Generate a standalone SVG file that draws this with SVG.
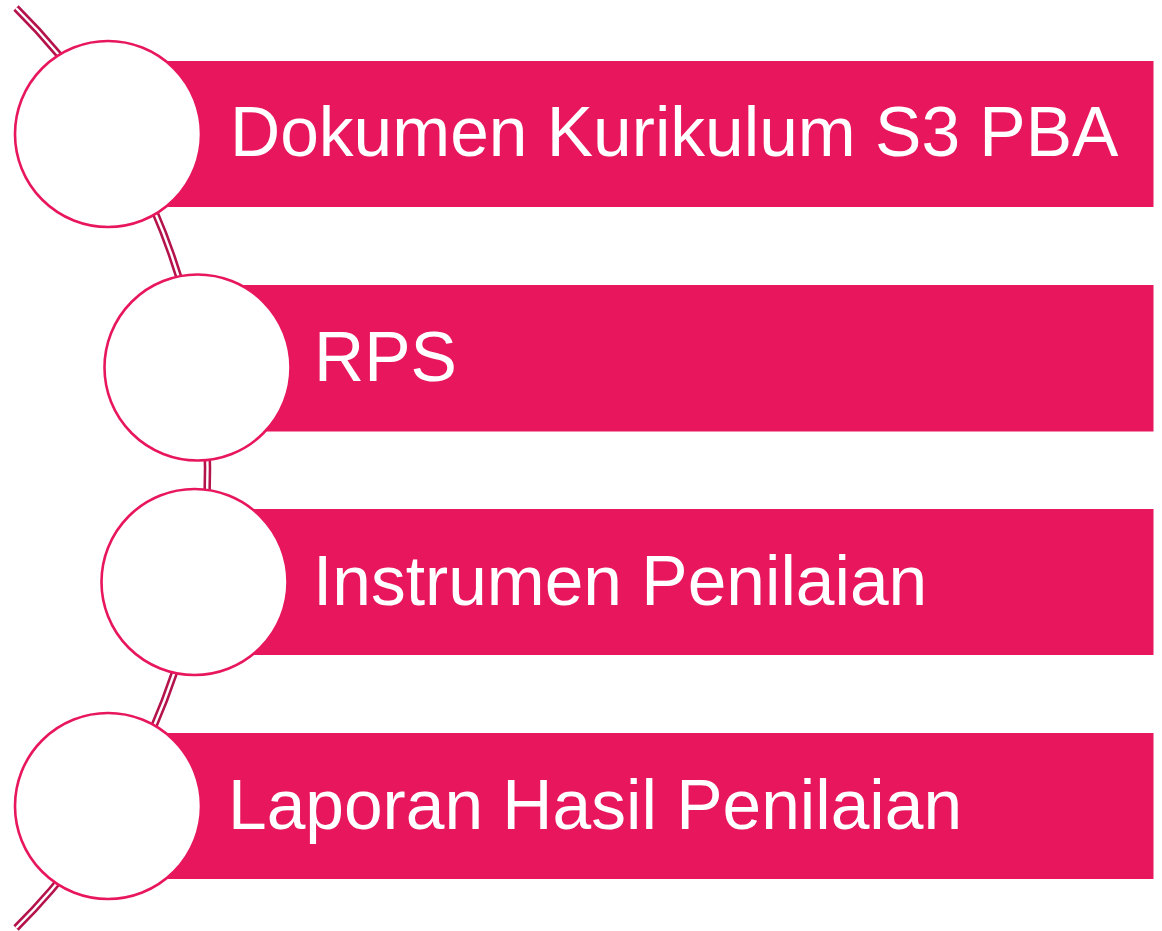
<svg xmlns="http://www.w3.org/2000/svg" width="1162" height="931" viewBox="0 0 1162 931">
  <style>
    .bar { fill: #e8175d; }
    .disc { fill: #ffffff; stroke: #e8175d; stroke-width: 2.6; }
    .label { fill: #ffffff; font-family: "Liberation Sans", Arial, sans-serif; font-size: 69.5px; }
    .spine-outer { fill: none; stroke: #b5134b; stroke-width: 7.5; }
    .spine-inner { fill: none; stroke: #ffffff; stroke-width: 2.4; }
  </style>
  <rect width="1162" height="931" fill="#ffffff"/>

  <!-- curved double-line spine running behind the circles -->
  <g id="connectors">
    <path class="spine-outer" d="M16 8 A648.2 648.2 0 0 1 16 928"/>
    <path class="spine-inner" d="M16 8 A648.2 648.2 0 0 1 16 928"/>
  </g>

  <g id="step1">
    <rect class="bar" x="108" y="61" width="1045.5" height="146"/>
    <circle class="disc" cx="108" cy="134" r="93"/>
    <text class="label" x="230" y="156">Dokumen Kurikulum S3 PBA</text>
  </g>

  <g id="step2">
    <rect class="bar" x="197" y="285" width="956.5" height="146.5"/>
    <circle class="disc" cx="197.5" cy="367.5" r="93"/>
    <text class="label" x="314" y="381">RPS</text>
  </g>

  <g id="step3">
    <rect class="bar" x="194" y="509" width="959.5" height="146"/>
    <circle class="disc" cx="194.5" cy="582" r="93"/>
    <text class="label" x="313" y="605">Instrumen Penilaian</text>
  </g>

  <g id="step4">
    <rect class="bar" x="108" y="733" width="1045.5" height="146"/>
    <circle class="disc" cx="108" cy="806" r="93"/>
    <text class="label" x="228" y="829">Laporan Hasil Penilaian</text>
  </g>
</svg>
